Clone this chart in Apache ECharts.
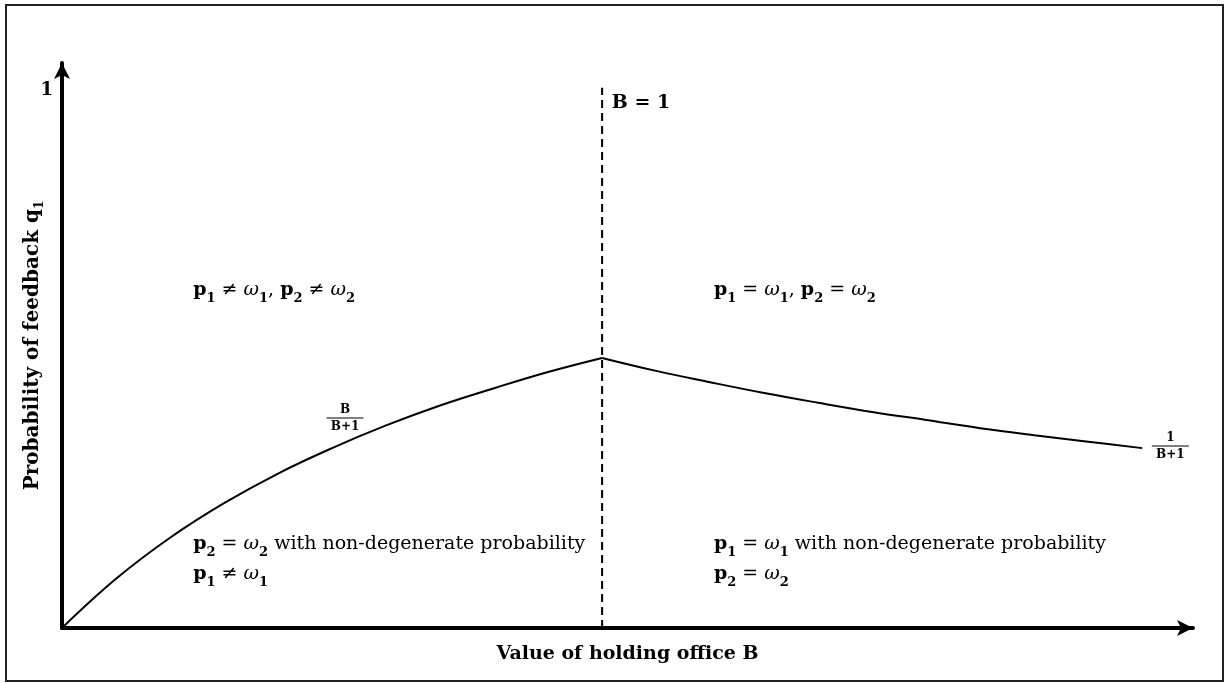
<!DOCTYPE html>
<html>
<head>
<meta charset="utf-8">
<script src="https://cdn.jsdelivr.net/npm/echarts@6/dist/echarts.min.js"></script>
<style>
  html, body { margin: 0; padding: 0; background: #fff; }
  #chart { width: 1228px; height: 683px; }
</style>
</head>
<body>
<div id="chart"></div>
<script>
// rising branch q = B/(B+1)
const riseB = [0, 0.1, 0.2, 0.3, 0.4, 0.5, 0.6, 0.7, 0.8, 0.9, 1.0];
const riseQ = [0, 0.091, 0.167, 0.231, 0.286, 0.333, 0.375, 0.412, 0.444, 0.474, 0.5];
// falling branch q = 1/(B+1)
const fallB = [1.0, 1.1, 1.2, 1.3, 1.4, 1.5, 1.6, 1.7, 1.8, 1.9, 2.0];
const fallQ = [0.5, 0.476, 0.455, 0.435, 0.417, 0.4, 0.385, 0.37, 0.357, 0.345, 0.333];
// vertical cut at B = 1
const cutB = [1, 1];
const cutQ = [0, 1];
const yTickLabels = ['1'];

const SERIF = '"DejaVu Serif", "Liberation Serif", serif';
const FS = 19;

const pair = (a, b) => a.map((v, i) => [v, b[i]]);

const rich = {
  b: { fontFamily: SERIF, fontWeight: 'bold', fontSize: FS, lineHeight: 30, color: '#000' },
  s: { fontFamily: SERIF, fontWeight: 'bold', fontSize: 13, lineHeight: 13, verticalAlign: 'bottom', color: '#000' },
  t: { fontFamily: SERIF, fontSize: FS, lineHeight: 30, color: '#000' },
  w: { fontFamily: SERIF, fontStyle: 'italic', fontSize: FS, lineHeight: 30, color: '#000' },
  n: { fontFamily: SERIF, fontWeight: 'bold', fontSize: 12, lineHeight: 13, align: 'center', color: '#000' },
  bar: { width: 37, height: 1, lineHeight: 4, backgroundColor: '#000', align: 'center' }
};

// region labels: [B, q, text]
const notes = [
  [0.243, 0.626, '{b|p}{s|1}{t| ≠ }{w|ω}{s|1}{t|, }{b|p}{s|2}{t| ≠ }{w|ω}{s|2}'],
  [1.207, 0.626, '{b|p}{s|1}{t| = }{w|ω}{s|1}{t|, }{b|p}{s|2}{t| = }{w|ω}{s|2}'],
  [0.243, 0.128, '{b|p}{s|2}{t| = }{w|ω}{s|2}{t| with non-degenerate probability}\n{b|p}{s|1}{t| ≠ }{w|ω}{s|1}'],
  [1.207, 0.128, '{b|p}{s|1}{t| = }{w|ω}{s|1}{t| with non-degenerate probability}\n{b|p}{s|2}{t| = }{w|ω}{s|2}'],
  [1.018, 0.972, '{b|B = 1}']
];
const fracs = [
  [0.524, 0.389, '{n|B}\n{bar| }\n{n|B+1}'],
  [2.052, 0.337, '{n|1}\n{bar| }\n{n|B+1}']
];

const chart = echarts.init(document.getElementById('chart'));

chart.setOption({
  animation: false,
  backgroundColor: '#fff',
  graphic: [{
    type: 'rect',
    shape: { x: 6, y: 5, width: 1217, height: 676 },
    style: { fill: 'none', stroke: '#222', lineWidth: 2 },
    silent: true
  }],
  grid: { left: 62, right: 35, top: 63, bottom: 55 },
  xAxis: {
    type: 'value', min: 0, max: 2.094,
    name: 'Value of holding office B',
    nameLocation: 'middle', nameGap: 17, nameMoveOverlap: false,
    nameTextStyle: { fontFamily: SERIF, fontWeight: 'bold', fontSize: 19, color: '#000' },
    axisLine: { lineStyle: { color: '#000', width: 4 }, symbol: ['none', 'arrow'], symbolSize: [12, 16] },
    axisTick: { show: false }, axisLabel: { show: false }, splitLine: { show: false }
  },
  yAxis: {
    type: 'value', min: 0, max: 1.046, interval: 1,
    name: '{n|Probability of feedback q}{s|1}',
    nameLocation: 'middle', nameGap: 16, nameMoveOverlap: false,
    nameTextStyle: {
      rich: {
        n: { fontFamily: SERIF, fontWeight: 'bold', fontSize: 20, lineHeight: 26, color: '#000' },
        s: { fontFamily: SERIF, fontWeight: 'bold', fontSize: 12, lineHeight: 12, verticalAlign: 'bottom', color: '#000' }
      }
    },
    axisLine: { show: true, lineStyle: { color: '#000', width: 4 }, symbol: ['none', 'arrow'], symbolSize: [12, 16] },
    axisTick: { show: false }, splitLine: { show: false },
    axisLabel: {
      margin: 9, verticalAlign: 'top', lineHeight: 4,
      fontFamily: SERIF, fontWeight: 'bold', fontSize: 18, color: '#000',
      formatter: v => (v === 1 ? yTickLabels[0] : '')
    }
  },
  series: [
    {
      type: 'line', data: pair(riseB, riseQ), smooth: 0.4, showSymbol: false,
      lineStyle: { color: '#000', width: 2 }
    },
    {
      type: 'line', data: pair(fallB, fallQ), smooth: 0.4, showSymbol: false,
      lineStyle: { color: '#000', width: 2 }
    },
    {
      type: 'line', data: pair(cutB, cutQ), showSymbol: false,
      lineStyle: { color: '#000', width: 2, type: [8, 5] }
    },
    {
      type: 'scatter', symbolSize: 0, silent: true, itemStyle: { opacity: 1 },
      data: notes.map(d => ({ value: [d[0], d[1]], text: d[2] })),
      label: { show: true, position: 'right', distance: 0, color: '#000', opacity: 1, formatter: p => p.data.text, rich }
    },
    {
      type: 'scatter', symbolSize: 0, silent: true, itemStyle: { opacity: 1 },
      data: fracs.map(d => ({ value: [d[0], d[1]], text: d[2] })),
      label: { show: true, position: 'inside', color: '#000', opacity: 1, formatter: p => p.data.text, rich }
    }
  ]
});
</script>
</body>
</html>
